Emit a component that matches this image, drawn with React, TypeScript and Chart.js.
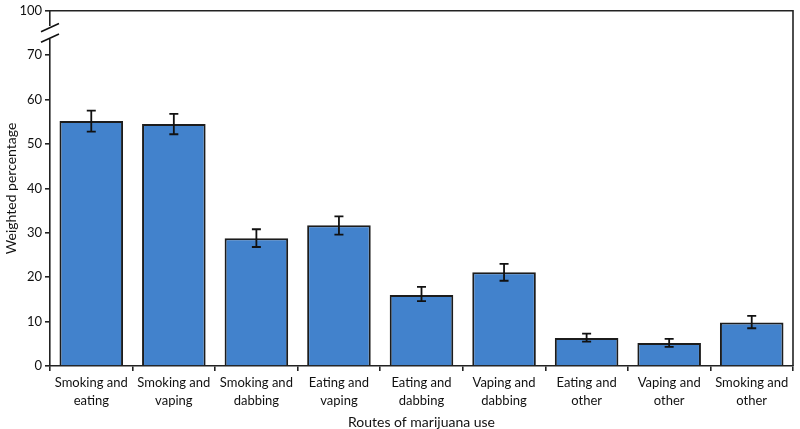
import React, { useEffect, useRef } from "react";
import { Chart, registerables } from "chart.js";

Chart.register(...registerables);

const categories: string[][] = [
  ["Smoking and", "eating"],
  ["Smoking and", "vaping"],
  ["Smoking and", "dabbing"],
  ["Eating and", "vaping"],
  ["Eating and", "dabbing"],
  ["Vaping and", "dabbing"],
  ["Eating and", "other"],
  ["Vaping and", "other"],
  ["Smoking and", "other"],
];
const values = [55.2, 54.5, 28.8, 31.7, 16.0, 21.1, 6.3, 5.2, 9.8];
const errLow = [52.8, 52.2, 26.8, 29.6, 14.6, 19.2, 5.5, 4.3, 8.5];
const errHigh = [57.5, 56.8, 30.8, 33.7, 17.8, 23.0, 7.3, 6.1, 11.3];
// axis: 0–70 linear, then a break; the top tick (80 on the scale) reads 100
const yTickValues = [0, 10, 20, 30, 40, 50, 60, 70, 80];
const yTickLabels = ["0", "10", "20", "30", "40", "50", "60", "70", "100"];
const breakValue = 75;

const FONT = "Lato, 'Open Sans', sans-serif";

export default function App() {
  const ref = useRef<HTMLCanvasElement | null>(null);

  useEffect(() => {
    document.body.style.margin = "0";
    const canvas = ref.current!;
    const extras = {
      id: "extras",
      afterDatasetsDraw(chart: any) {
        const ctx = chart.ctx;
        const y = chart.scales.y;
        const meta = chart.getDatasetMeta(0);
        ctx.save();
        ctx.strokeStyle = "#111";
        ctx.lineWidth = 1.8;
        meta.data.forEach((bar: any, i: number) => {
          const cx = bar.x;
          const yl = y.getPixelForValue(errLow[i]);
          const yh = y.getPixelForValue(errHigh[i]);
          ctx.beginPath();
          ctx.moveTo(cx, yl);
          ctx.lineTo(cx, yh);
          ctx.moveTo(cx - 4.5, yl);
          ctx.lineTo(cx + 4.5, yl);
          ctx.moveTo(cx - 4.5, yh);
          ctx.lineTo(cx + 4.5, yh);
          ctx.stroke();
        });
        ctx.restore();
      },
      afterDraw(chart: any) {
        const ctx = chart.ctx;
        const y = chart.scales.y;
        const area = chart.chartArea;
        ctx.save();
        ctx.strokeStyle = "#222";
        ctx.lineWidth = 1.6;
        ctx.beginPath();
        ctx.moveTo(area.left, area.top);
        ctx.lineTo(area.right, area.top);
        ctx.lineTo(area.right, area.bottom);
        ctx.stroke();
        const yb = y.getPixelForValue(breakValue);
        const ax = area.left;
        ctx.fillStyle = "#fff";
        ctx.fillRect(ax - 3, yb - 7, 6, 13);
        ctx.strokeStyle = "#111";
        ctx.lineWidth = 1.6;
        ctx.beginPath();
        ctx.moveTo(ax - 9, yb - 1.2);
        ctx.lineTo(ax + 9, yb - 9.5);
        ctx.moveTo(ax - 9, yb + 9.3);
        ctx.lineTo(ax + 9, yb + 1);
        ctx.stroke();
        ctx.restore();
      },
    };

    const chart = new Chart(canvas, {
      type: "bar",
      data: {
        labels: categories,
        datasets: [
          {
            data: values,
            backgroundColor: "#4282cc",
            borderColor: "#1c1c1c",
            borderWidth: 2,
            categoryPercentage: 0.77,
            barPercentage: 1,
          },
        ],
      },
      options: {
        animation: false,
        responsive: false,
        maintainAspectRatio: false,
        layout: { padding: { top: 10, right: 7, bottom: 0, left: 0 } },
        plugins: { legend: { display: false }, tooltip: { enabled: false } },
        scales: {
          x: {
            grid: {
              display: true,
              drawOnChartArea: false,
              drawTicks: true,
              tickLength: 5,
              color: "#222",
              lineWidth: 1.6,
            },
            border: { display: true, color: "#222", width: 1.6 },
            ticks: {
              color: "#111",
              font: { family: FONT, size: 13, lineHeight: 1.38 },
              padding: 3,
              maxRotation: 0,
              autoSkip: false,
            },
            title: {
              display: true,
              text: "Routes of marijuana use",
              color: "#111",
              font: { family: FONT, size: 14, lineHeight: 1 },
              padding: { top: 4, bottom: 0 },
            },
            afterFit(scale: any) {
              scale.height = 63;
            },
          },
          y: {
            min: 0,
            max: 80,
            afterBuildTicks(scale: any) {
              scale.ticks = yTickValues.map((v) => ({ value: v }));
            },
            grid: {
              display: true,
              drawOnChartArea: false,
              drawTicks: true,
              tickLength: 5,
              color: "#222",
              lineWidth: 1.6,
            },
            border: { display: true, color: "#222", width: 1.6 },
            ticks: {
              color: "#111",
              font: { family: FONT, size: 13 },
              padding: 3,
              callback: (v: any) => {
                const i = yTickValues.indexOf(Number(v));
                return i >= 0 ? yTickLabels[i] : "";
              },
            },
            title: {
              display: true,
              text: "Weighted percentage",
              color: "#111",
              font: { family: FONT, size: 14 },
              padding: { top: 3, bottom: 0 },
            },
            afterFit(scale: any) {
              scale.width = 50;
            },
          },
        },
      },
      plugins: [extras],
    });
    return () => chart.destroy();
  }, []);

  return (
    <div style={{ position: "fixed", left: 0, top: 0, width: 800, height: 429 }}>
      <canvas ref={ref} width={800} height={429} style={{ width: 800, height: 429 }} />
    </div>
  );
}
